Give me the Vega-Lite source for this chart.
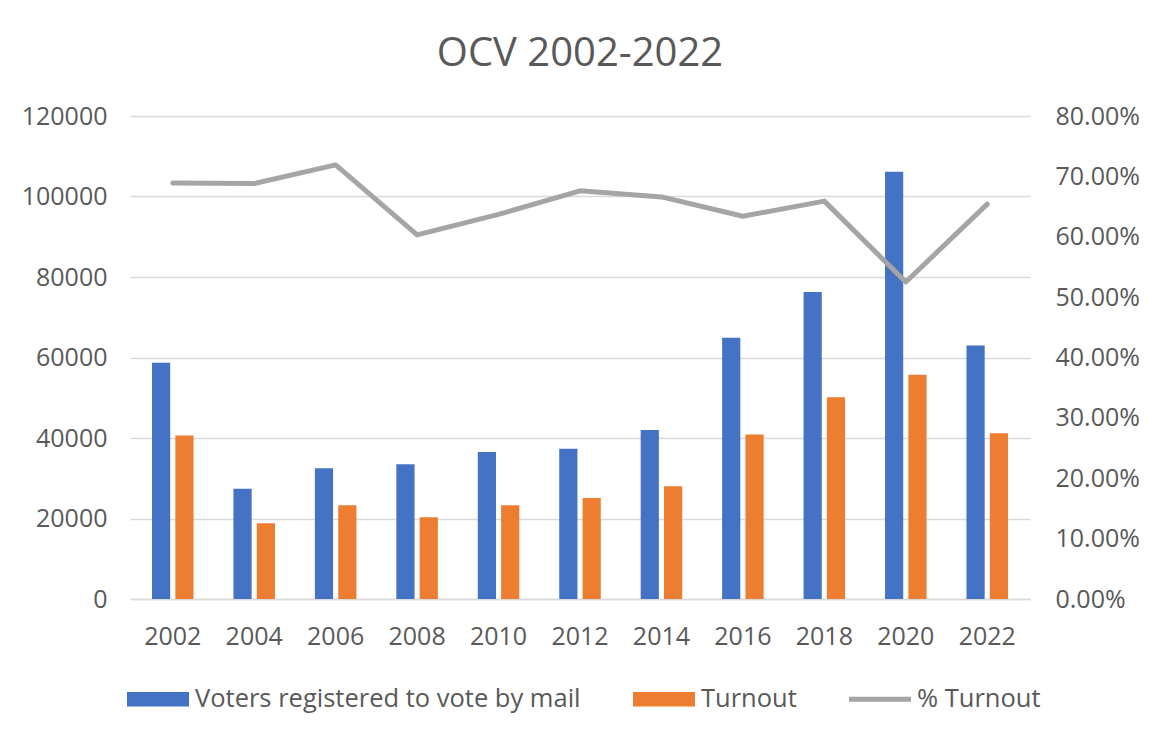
{
  "$schema": "https://vega.github.io/schema/vega-lite/v6.json",
  "width": 900,
  "height": 483,
  "autosize": {"type": "none"},
  "padding": {"left": 130, "top": 116, "right": 133, "bottom": 140},
  "background": "white",
  "title": {"text": "OCV 2002-2022", "fontSize": 40, "font": "Open Sans", "fontWeight": "normal", "color": "#595959", "offset": 30},
  "config": {
    "font": "Open Sans",
    "view": {"stroke": null},
    "axis": {"labelFont": "Open Sans", "labelFontSize": 25, "labelColor": "#595959", "ticks": false, "domain": false, "gridColor": "#d9d9d9", "gridWidth": 1.3, "title": null}
  },
  "datasets": {
    "bars": [
      {"year": "2002", "series": "Voters registered to vote by mail", "value": 58700},
      {"year": "2002", "series": "Turnout", "value": 40600},
      {"year": "2004", "series": "Voters registered to vote by mail", "value": 27400},
      {"year": "2004", "series": "Turnout", "value": 18800},
      {"year": "2006", "series": "Voters registered to vote by mail", "value": 32500},
      {"year": "2006", "series": "Turnout", "value": 23300},
      {"year": "2008", "series": "Voters registered to vote by mail", "value": 33500},
      {"year": "2008", "series": "Turnout", "value": 20300},
      {"year": "2010", "series": "Voters registered to vote by mail", "value": 36500},
      {"year": "2010", "series": "Turnout", "value": 23300},
      {"year": "2012", "series": "Voters registered to vote by mail", "value": 37300},
      {"year": "2012", "series": "Turnout", "value": 25100},
      {"year": "2014", "series": "Voters registered to vote by mail", "value": 42000},
      {"year": "2014", "series": "Turnout", "value": 28000},
      {"year": "2016", "series": "Voters registered to vote by mail", "value": 64900},
      {"year": "2016", "series": "Turnout", "value": 40900},
      {"year": "2018", "series": "Voters registered to vote by mail", "value": 76300},
      {"year": "2018", "series": "Turnout", "value": 50150},
      {"year": "2020", "series": "Voters registered to vote by mail", "value": 106150},
      {"year": "2020", "series": "Turnout", "value": 55700},
      {"year": "2022", "series": "Voters registered to vote by mail", "value": 63000},
      {"year": "2022", "series": "Turnout", "value": 41200}
    ],
    "pct": [
      {"year": "2002", "pct": 0.689},
      {"year": "2004", "pct": 0.688},
      {"year": "2006", "pct": 0.719},
      {"year": "2008", "pct": 0.603},
      {"year": "2010", "pct": 0.637},
      {"year": "2012", "pct": 0.676},
      {"year": "2014", "pct": 0.666},
      {"year": "2016", "pct": 0.634},
      {"year": "2018", "pct": 0.659},
      {"year": "2020", "pct": 0.525},
      {"year": "2022", "pct": 0.654}
    ]
  },
  "layer": [
    {
      "data": {"name": "bars"},
      "mark": {"type": "bar"},
      "encoding": {
        "x": {
          "field": "year", "type": "nominal",
          "scale": {"paddingInner": 0.49, "paddingOuter": 0.27},
          "axis": {"labelAngle": 0, "domain": true, "domainColor": "#d9d9d9", "domainWidth": 1.5, "grid": false, "labelPadding": 25}
        },
        "xOffset": {
          "field": "series", "type": "nominal",
          "sort": ["Voters registered to vote by mail", "Turnout"],
          "scale": {"paddingInner": 0.22}
        },
        "y": {
          "field": "value", "type": "quantitative",
          "scale": {"domain": [0, 120000]},
          "axis": {"values": [0, 20000, 40000, 60000, 80000, 100000, 120000], "format": "d", "labelPadding": 23, "grid": true}
        },
        "color": {
          "field": "series", "type": "nominal",
          "scale": {"domain": ["Voters registered to vote by mail", "Turnout", "% Turnout"], "range": ["#4472c4", "#ed7d31", "#a5a5a5"]},
          "legend": {
            "orient": "none", "legendX": -3, "legendY": 552, "direction": "horizontal", "title": null,
            "labelFontSize": 25.5, "labelColor": "#595959", "labelFont": "Open Sans", "labelLimit": 0,
            "symbolSize": 3844, "columnPadding": 52, "labelOffset": 6,
            "encode": {
              "symbols": {
                "update": {
                  "shape": {"signal": "datum.value === '% Turnout' ? 'M-1,-0.08H1V0.08H-1Z' : 'M-1,-0.23H1V0.23H-1Z'"},
                  "fill": {"scale": "color", "field": "value"},
                  "strokeWidth": {"value": 0},
                  "opacity": {"value": 1}
                }
              }
            }
          }
        }
      }
    },
    {
      "data": {"name": "pct"},
      "mark": {"type": "line", "strokeWidth": 5, "strokeJoin": "round", "strokeCap": "round"},
      "encoding": {
        "x": {"field": "year", "type": "nominal"},
        "y": {
          "field": "pct", "type": "quantitative",
          "scale": {"domain": [0, 0.8]},
          "axis": {"orient": "right", "values": [0, 0.1, 0.2, 0.3, 0.4, 0.5, 0.6, 0.7, 0.8], "format": ".2%", "grid": false, "labelPadding": 25}
        },
        "color": {"datum": "% Turnout"}
      }
    }
  ],
  "resolve": {"scale": {"y": "independent"}}
}
